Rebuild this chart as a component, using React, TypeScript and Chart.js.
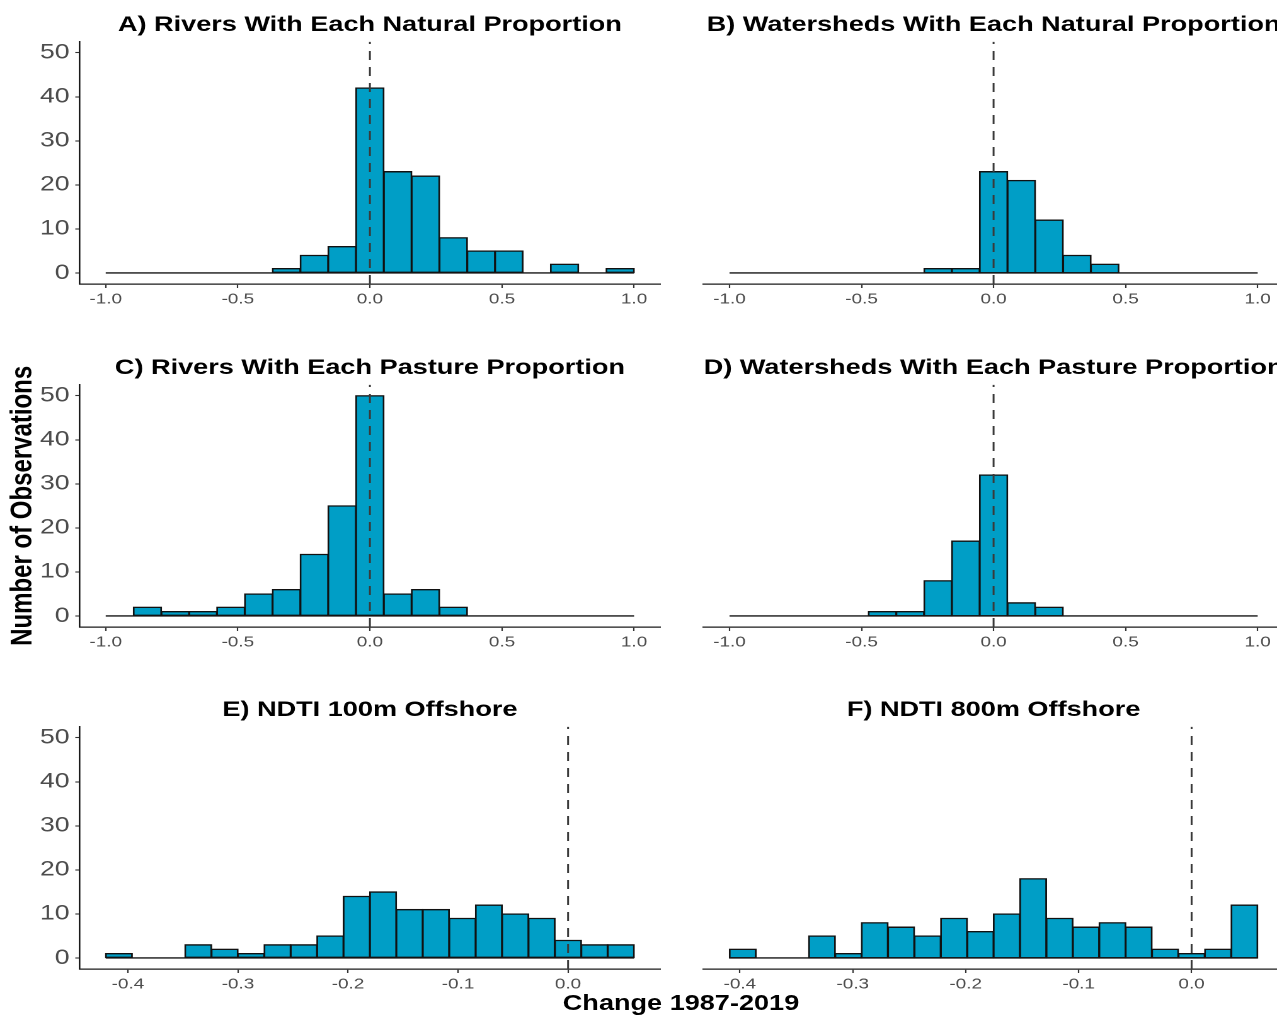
import { useEffect, useRef } from "react";
import { Chart, registerables } from "chart.js";

Chart.register(...registerables);

// ---------- data ----------
const binCentersProportion = [
  -0.9474, -0.8421, -0.7368, -0.6316, -0.5263, -0.4211, -0.3158, -0.2105, -0.1053, 0,
  0.1053, 0.2105, 0.3158, 0.4211, 0.5263, 0.6316, 0.7368, 0.8421, 0.9474,
];
const riversNatural = [0, 0, 0, 0, 0, 0, 1, 4, 6, 42, 23, 22, 8, 5, 5, 0, 2, 0, 1];
const watershedsNatural = [0, 0, 0, 0, 0, 0, 0, 1, 1, 23, 21, 12, 4, 2, 0, 0, 0, 0, 0];
const riversPasture = [0, 2, 1, 1, 2, 5, 6, 14, 25, 50, 5, 6, 2, 0, 0, 0, 0, 0, 0];
const watershedsPasture = [0, 0, 0, 0, 0, 1, 1, 8, 17, 32, 3, 2, 0, 0, 0, 0, 0, 0, 0];

const binCentersNdti100 = [
  -0.4082, -0.3842, -0.3602, -0.3361, -0.3121, -0.2881, -0.2641, -0.2401, -0.2161, -0.1921,
  -0.1681, -0.1441, -0.1201, -0.096, -0.072, -0.048, -0.024, 0, 0.024, 0.048,
];
const ndti100 = [1, 0, 0, 3, 2, 1, 3, 3, 5, 14, 15, 11, 11, 9, 12, 10, 9, 4, 3, 3];

const binCentersNdti800 = [
  -0.3975, -0.3741, -0.3507, -0.3273, -0.3039, -0.2806, -0.2572, -0.2338, -0.2104, -0.187,
  -0.1637, -0.1403, -0.1169, -0.0935, -0.0701, -0.0468, -0.0234, 0, 0.0234, 0.0468,
];
const ndti800 = [2, 0, 0, 5, 1, 8, 7, 5, 9, 6, 10, 18, 9, 7, 8, 7, 2, 1, 2, 12];

const proportionTicks = [-1, -0.5, 0, 0.5, 1];
const ndtiTicks = [-0.4, -0.3, -0.2, -0.1, 0];
const countTicks = [0, 10, 20, 30, 40, 50];

const proportionRange = [-1.1, 1.1];
const ndti100Range = [-0.4442, 0.084];
const ndti800Range = [-0.4326, 0.0819];
const countRange = [-2.5, 52.5];
const referenceLine = 0;

const yAxisTitle = "Number of Observations";
const xAxisTitle = "Change 1987-2019";

// ---------- styling / layout ----------
const S = 1.26; // horizontal stretch of the whole figure
const FONT = "'Liberation Sans', Arial, Helvetica, sans-serif";
const BAR = "#009EC6";
const CANVAS_H = 330;
const ROW_STEP = 342.5;

type PanelProps = {
  title: string;
  centers: number[];
  counts: number[];
  xRange: number[];
  xTicks: number[];
  left: boolean;
  yTitle?: string;
  top: number;
};

function Panel({ title, centers, counts, xRange, xTicks, left, yTitle, top }: PanelProps) {
  const ref = useRef<HTMLCanvasElement | null>(null);
  const width = left ? 541 : 492;
  const cssLeft = left ? 0 : 541.3;

  useEffect(() => {
    if (!ref.current) return;
    const w = centers[1] - centers[0];
    const lo = centers[0] - w / 2;
    const hi = centers[centers.length - 1] + w / 2;
    const chart = new Chart(ref.current, {
      type: "bar",
      data: {
        datasets: [
          {
            type: "line",
            data: [
              { x: referenceLine, y: countRange[0] },
              { x: referenceLine, y: countRange[1] },
            ],
            borderColor: "#3a3a3a",
            borderWidth: 1.5,
            borderDash: [9, 7],
            pointRadius: 0,
            fill: false,
            order: 0,
          } as any,
          {
            type: "line",
            data: [
              { x: lo, y: 0 },
              { x: hi, y: 0 },
            ],
            borderColor: "#151515",
            borderWidth: 1.4,
            pointRadius: 0,
            fill: false,
            order: 1,
          } as any,
          {
            type: "bar",
            data: centers.map((x, i) => ({ x, y: counts[i] })),
            backgroundColor: BAR,
            borderColor: "#111",
            borderWidth: 1.4,
            borderSkipped: false,
            inflateAmount: 0.6,
            categoryPercentage: 1,
            barPercentage: 1,
            order: 2,
          } as any,
        ],
      },
      options: {
        animation: false,
        responsive: false,
        devicePixelRatio: 2,
        layout: {
          padding: left
            ? { top: 0, left: 0, right: 16.8, bottom: 16 }
            : { top: 0, left: 17, right: 13.9, bottom: 16 },
        },
        plugins: {
          legend: { display: false },
          tooltip: { enabled: false },
          title: {
            display: true,
            text: title,
            fullSize: false,
            color: "#000",
            font: { family: FONT, size: 21.5, weight: "bold", lineHeight: 1.2 },
            padding: { top: 12.4, bottom: 3.5 },
          },
        },
        scales: {
          x: {
            type: "linear",
            min: xRange[0],
            max: xRange[1],
            offset: false,
            grid: {
              offset: false,
              drawOnChartArea: false,
              drawTicks: true,
              tickLength: 4,
              tickColor: "#333",
              tickWidth: 1.1,
            },
            border: { display: true, color: "#1a1a1a", width: 1.3 },
            ticks: {
              color: "#4d4d4d",
              font: { family: FONT, size: 15 },
              padding: 2.5,
              autoSkip: false,
              maxRotation: 0,
              callback: (v: any) => Number(v).toFixed(1),
            },
            afterBuildTicks: (s: any) => {
              s.ticks = xTicks.map((v) => ({ value: v }));
            },
            afterFit: (s: any) => {
              s.height = 30;
            },
          },
          y: {
            type: "linear",
            display: left,
            min: countRange[0],
            max: countRange[1],
            grid: {
              drawOnChartArea: false,
              drawTicks: true,
              tickLength: 3.2,
              tickColor: "#333",
              tickWidth: 1.1,
            },
            border: { display: true, color: "#1a1a1a", width: 1.3 },
            ticks: {
              color: "#4d4d4d",
              font: { family: FONT, size: 21 },
              padding: 4.6,
              autoSkip: false,
              callback: (v: any) => String(v),
            },
            title: {
              display: !!yTitle,
              text: yTitle || "",
              color: "#000",
              font: { family: FONT, size: 24, weight: "bold", lineHeight: 1.2 },
              padding: { top: 4, bottom: 4 },
            },
            afterBuildTicks: (s: any) => {
              s.ticks = countTicks.map((v) => ({ value: v }));
            },
            afterFit: (s: any) => {
              s.width = left ? 62.94 : 0;
            },
          },
        },
      } as any,
    });
    return () => chart.destroy();
  }, []);

  return (
    <canvas
      ref={ref}
      width={width}
      height={CANVAS_H}
      style={{ position: "absolute", left: cssLeft, top }}
    />
  );
}

export default function App() {
  return (
    <div
      style={{
        position: "fixed",
        left: 0,
        top: 0,
        width: 1277,
        height: 1015,
        overflow: "hidden",
        background: "#fff",
      }}
    >
      <div
        style={{
          position: "absolute",
          left: 0,
          top: 0,
          width: 1320 / S,
          height: 1015,
          transform: `scaleX(${S})`,
          transformOrigin: "0 0",
        }}
      >
        <Panel
          title="A) Rivers With Each Natural Proportion"
          centers={binCentersProportion}
          counts={riversNatural}
          xRange={proportionRange}
          xTicks={proportionTicks}
          left={true}
          top={0}
        />
        <Panel
          title="B) Watersheds With Each Natural Proportion"
          centers={binCentersProportion}
          counts={watershedsNatural}
          xRange={proportionRange}
          xTicks={proportionTicks}
          left={false}
          top={0}
        />
        <Panel
          title="C) Rivers With Each Pasture Proportion"
          centers={binCentersProportion}
          counts={riversPasture}
          xRange={proportionRange}
          xTicks={proportionTicks}
          left={true}
          yTitle={yAxisTitle}
          top={ROW_STEP}
        />
        <Panel
          title="D) Watersheds With Each Pasture Proportion"
          centers={binCentersProportion}
          counts={watershedsPasture}
          xRange={proportionRange}
          xTicks={proportionTicks}
          left={false}
          top={ROW_STEP}
        />
        <Panel
          title="E) NDTI 100m Offshore"
          centers={binCentersNdti100}
          counts={ndti100}
          xRange={ndti100Range}
          xTicks={ndtiTicks}
          left={true}
          top={2 * ROW_STEP}
        />
        <Panel
          title="F) NDTI 800m Offshore"
          centers={binCentersNdti800}
          counts={ndti800}
          xRange={ndti800Range}
          xTicks={ndtiTicks}
          left={false}
          top={2 * ROW_STEP}
        />
        <div
          style={{
            position: "absolute",
            left: 540.5 - 200,
            width: 400,
            top: 990.7,
            textAlign: "center",
            fontFamily: FONT,
            fontWeight: "bold",
            fontSize: 21.5,
            lineHeight: "24px",
            color: "#000",
            whiteSpace: "nowrap",
          }}
        >
          {xAxisTitle}
        </div>
      </div>
    </div>
  );
}
